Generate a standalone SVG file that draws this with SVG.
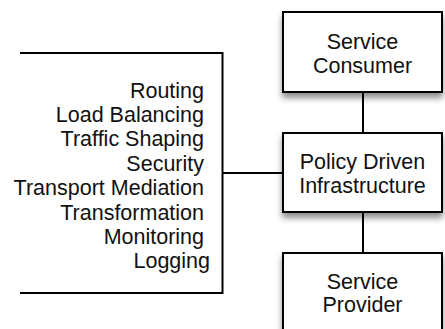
<svg xmlns="http://www.w3.org/2000/svg" width="445" height="329" viewBox="0 0 445 329">
<style>
.box{fill:#fff;stroke:#000;stroke-width:2;filter:url(#sh)}
.t{font-family:"Liberation Sans",Arial,sans-serif;font-size:21.5px;fill:#111}
.c{fill:none;stroke:#000;stroke-width:2}
</style>
<defs>
<filter id="sh" x="-20%" y="-20%" width="140%" height="160%">
<feDropShadow dx="0" dy="5" stdDeviation="3" flood-color="#000" flood-opacity="0.45"/>
</filter>
</defs>
<rect width="445" height="329" fill="#fff"/>
<g id="connectors">
<line class="c" x1="363" y1="92" x2="363" y2="133"/>
<line class="c" x1="363" y1="212" x2="363" y2="253"/>
<line class="c" x1="222.5" y1="173" x2="283" y2="173"/>
<polyline class="c" points="20,53 222.5,53 222.5,293 20,293"/>
</g>
<g id="features">
<text class="t" text-anchor="end" x="210">
<tspan x="210" y="97.5">Routing</tspan>
<tspan x="210" y="121.9">Load Balancing</tspan>
<tspan x="210" y="146.3">Traffic Shaping</tspan>
<tspan x="210" y="170.7">Security</tspan>
<tspan x="210" y="195.1">Transport Mediation</tspan>
<tspan x="210" y="219.5">Transformation</tspan>
<tspan x="210" y="243.9">Monitoring</tspan>
<tspan x="210" y="268.3">Logging</tspan>
</text>
</g>
<g id="consumer">
<rect class="box" x="283" y="12" width="159" height="80"/>
<text class="t" text-anchor="middle"><tspan x="362.5" y="48.5">Service</tspan><tspan x="362.5" y="72.8">Consumer</tspan></text>
</g>
<g id="infrastructure">
<rect class="box" x="283" y="133" width="159" height="79"/>
<text class="t" text-anchor="middle"><tspan x="362.5" y="168.5">Policy Driven</tspan><tspan x="362.5" y="192.8">Infrastructure</tspan></text>
</g>
<g id="provider">
<rect class="box" x="283" y="253" width="159" height="100"/>
<text class="t" text-anchor="middle"><tspan x="362.5" y="288.5">Service</tspan><tspan x="362.5" y="311.8">Provider</tspan></text>
</g>
</svg>
